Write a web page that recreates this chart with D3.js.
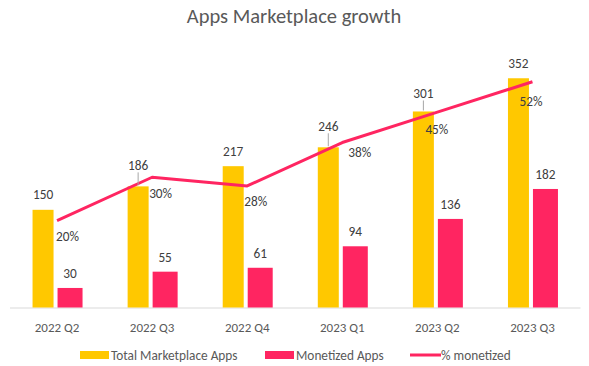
<!DOCTYPE html>
<html>
<head>
<meta charset="utf-8">
<script src="https://cdn.jsdelivr.net/npm/d3@7"></script>
<style>
  body { margin: 0; background: #fff; }
  svg { display: block; font-family: Carlito, Lato, "Open Sans", sans-serif; }
</style>
</head>
<body>
<div id="chart"></div>
<script>
// Chart data
const quarters = ["2022 Q2", "2022 Q3", "2022 Q4", "2023 Q1", "2023 Q2", "2023 Q3"];
const totalApps = [150, 186, 217, 246, 301, 352];
const monetizedApps = [30, 55, 61, 94, 136, 182];
const pctMonetized = [0.20, 0.30, 0.28, 0.38, 0.45, 0.52];

// Manual label nudges (Excel labels were dragged around)
const totalLabelGap = [11, 16, 10, 16, 13, 10];
const totalLeader = [false, true, false, true, true, false];
const pctLabelNudge = [[-1, 20], [-3, 21], [-3, 20], [6, 14], [-12, 22], [-13, 24]];

const width = 589;
const height = 366;
const margin = { top: 47, right: 9, bottom: 58.5, left: 9.5 };

const colors = { total: "#FFC800", monetized: "#FF2561", line: "#FF2561" };

const svg = d3.select("#chart").append("svg")
    .attr("width", width)
    .attr("height", height);

const x = d3.scaleBand()
    .domain(quarters)
    .range([margin.left, width - margin.right])
    .padding(0);
const y = d3.scaleLinear()
    .domain([0, 400])
    .range([height - margin.bottom, margin.top]);
const y2 = d3.scaleLinear()
    .domain([0, 0.6])
    .range([height - margin.bottom, margin.top]);

const cx = d => x(d) + x.bandwidth() / 2;

// Title
svg.append("text")
    .attr("x", 294)
    .attr("y", 23)
    .attr("text-anchor", "middle")
    .attr("fill", "#595959")
    .style("font-size", "20.5px")
    .text("Apps Marketplace growth");

// Axis
const xAxis = svg.append("g")
    .attr("transform", `translate(0,${height - margin.bottom})`)
    .call(d3.axisBottom(x).tickSize(0).tickPadding(15));
xAxis.select(".domain").attr("stroke", "#d9d9d9");
xAxis.selectAll("text")
    .attr("fill", "#595959")
    .style("font-size", "13px")
    .style("font-family", "Carlito, Lato, sans-serif");

// Bars
svg.selectAll(".bar-total")
    .data(quarters)
    .enter()
    .append("rect")
    .attr("class", "bar-total")
    .attr("x", d => cx(d) - 24.5)
    .attr("width", 21)
    .attr("y", (d, i) => y(totalApps[i]))
    .attr("height", (d, i) => y(0) - y(totalApps[i]))
    .attr("fill", colors.total);

svg.selectAll(".bar-mon")
    .data(quarters)
    .enter()
    .append("rect")
    .attr("class", "bar-mon")
    .attr("x", d => cx(d) + 0.5)
    .attr("width", 25)
    .attr("y", (d, i) => y(monetizedApps[i]))
    .attr("height", (d, i) => y(0) - y(monetizedApps[i]))
    .attr("fill", colors.monetized);

// Line
const line = d3.line()
    .x((d, i) => cx(quarters[i]))
    .y(d => y2(d));

svg.append("path")
    .datum(pctMonetized)
    .attr("d", line)
    .attr("fill", "none")
    .attr("stroke", colors.line)
    .attr("stroke-width", 3)
    .attr("stroke-linejoin", "round");

// Leader lines for moved labels
quarters.forEach((q, i) => {
    if (!totalLeader[i]) return;
    const bx = cx(q) - 14;
    svg.append("line")
        .attr("x1", bx)
        .attr("x2", bx)
        .attr("y1", y(totalApps[i]) - totalLabelGap[i] + 2)
        .attr("y2", y(totalApps[i]) - 1)
        .attr("stroke", "#a6a6a6")
        .attr("stroke-width", 1);
});

// Value labels
const labelStyle = sel => sel
    .attr("fill", "#404040")
    .style("font-size", "13.3px");

svg.selectAll(".lbl-total")
    .data(quarters)
    .enter()
    .append("text")
    .attr("x", d => cx(d) - 14)
    .attr("y", (d, i) => y(totalApps[i]) - totalLabelGap[i])
    .attr("text-anchor", "middle")
    .call(labelStyle)
    .text((d, i) => totalApps[i]);

svg.selectAll(".lbl-mon")
    .data(quarters)
    .enter()
    .append("text")
    .attr("x", d => cx(d) + 13)
    .attr("y", (d, i) => y(monetizedApps[i]) - 10)
    .attr("text-anchor", "middle")
    .call(labelStyle)
    .text((d, i) => monetizedApps[i]);

svg.selectAll(".lbl-pct")
    .data(quarters)
    .enter()
    .append("text")
    .attr("x", (d, i) => cx(d) + pctLabelNudge[i][0])
    .attr("y", (d, i) => y2(pctMonetized[i]) + pctLabelNudge[i][1])
    .call(labelStyle)
    .text((d, i) => d3.format(".0%")(pctMonetized[i]));

// Legend
const legend = svg.append("g").attr("transform", "translate(0,355)");
const legendItems = [
    { label: "Total Marketplace Apps", x: 80, type: "rect", color: colors.total },
    { label: "Monetized Apps", x: 265, type: "rect", color: colors.monetized },
    { label: "% monetized", x: 410, type: "line", color: colors.line }
];
legendItems.forEach(item => {
    if (item.type === "rect") {
        legend.append("rect")
            .attr("x", item.x)
            .attr("y", -4)
            .attr("width", 29)
            .attr("height", 8)
            .attr("fill", item.color);
    } else {
        legend.append("line")
            .attr("x1", item.x)
            .attr("x2", item.x + 31)
            .attr("y1", 0)
            .attr("y2", 0)
            .attr("stroke", item.color)
            .attr("stroke-width", 3);
    }
    legend.append("text")
        .attr("x", item.x + 31)
        .attr("y", 4.5)
        .attr("fill", "#595959")
        .style("font-size", "13.3px")
        .text(item.label);
});
</script>
</body>
</html>
